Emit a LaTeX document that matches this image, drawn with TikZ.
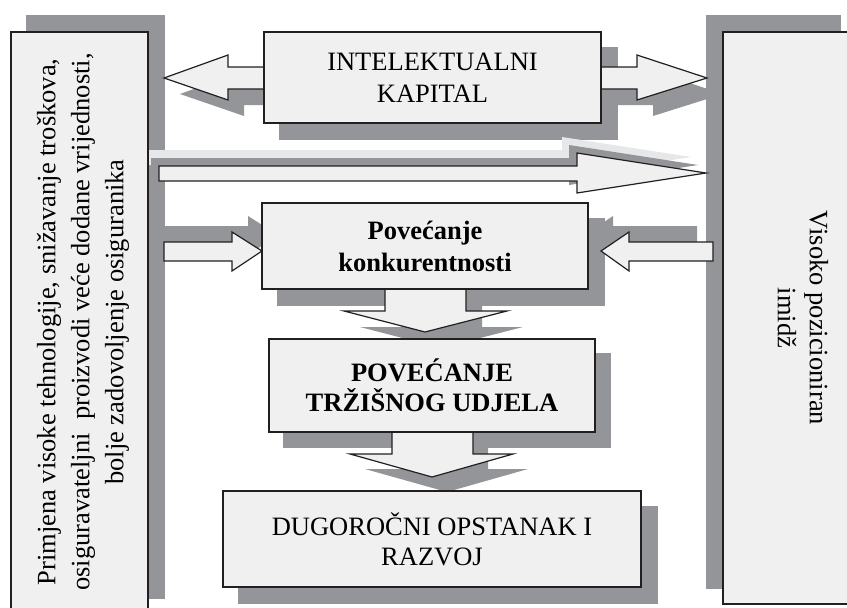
\documentclass[tikz,border=0pt]{standalone}
\usepackage{fontspec}
\setmainfont{Liberation Serif}
\usetikzlibrary{calc}
\definecolor{cBox}{RGB}{240,240,240}
\definecolor{cShade}{RGB}{147,149,152}
\definecolor{cLight}{RGB}{230,231,232}
\definecolor{cLine}{RGB}{35,31,32}
\pgfdeclarelayer{bg}
\pgfsetlayers{bg,main}

\tikzset{
  box/.style={draw=cLine, fill=cBox, line width=1.2pt, inner sep=0pt, align=center,
    font=\fontsize{26.5}{32}\selectfont},
  blk/.style={draw=cLine, fill=cBox, line width=1.2pt},
  shade/.style={fill=cShade},
  sidetext/.style={align=center, inner sep=0pt},
}

% block arrow outlines (reused for the shadows)
\def\pathKap{(164,78) -- (228,55) -- (228,67) -- (637,67) -- (637,55) -- (707,78) -- (637,100) -- (637,89) -- (228,89) -- (228,100) -- cycle}
\def\pathLong{(159,166) -- (577,166) -- (577,153) -- (706,173) -- (577,193) -- (577,181) -- (159,181) -- cycle}
\def\pathInL{(164,242) -- (232,242) -- (232,232) -- (262,251) -- (232,271) -- (232,261) -- (164,261) -- cycle}
\def\pathInR{(713,242) -- (629,242) -- (629,232) -- (601,251) -- (629,271) -- (629,261) -- (713,261) -- cycle}
\def\pathDownA{(385,289) -- (466,289) -- (466,311) -- (507,311) -- (425,332) -- (344,311) -- (385,311) -- cycle}
\def\pathDownB{(392,432) -- (473,432) -- (473,454) -- (513,454) -- (432,477) -- (350,454) -- (392,454) -- cycle}

\begin{document}
\begin{tikzpicture}[x=1pt, y=-1pt]
    \useasboundingbox (0,0) rectangle (847,608);

    % Double arrow behind the top box
    \draw[blk] \pathKap;
    \node[box, minimum width=337pt, minimum height=91pt] (kap) at (432.5,77.5) {INTELEKTUALNI\\KAPITAL};

    % Side arrows and first down arrow
    \draw[blk] \pathInL;
    \draw[blk] \pathInR;
    \draw[blk] \pathDownA;
    \node[box, font=\fontsize{26.5}{32}\selectfont\bfseries, minimum width=326pt, minimum height=86pt] (konk) at (425,246) {Povećanje\\konkurentnosti};

    \draw[blk] \pathDownB;
    \node[box, font=\fontsize{26.5}{30}\selectfont\bfseries, minimum width=326pt, minimum height=93pt] (trz) at (432,385.5) {POVEĆANJE\\TRŽIŠNOG UDJELA};
    \node[box, font=\fontsize{26.5}{30}\selectfont, minimum width=418pt, minimum height=96pt] (dug) at (432,539) {DUGOROČNI OPSTANAK I\\RAZVOJ};

    % Side boxes
    \node[box, minimum width=137pt, minimum height=582pt] (lijevo) at (79.5,323) {};
    \node[box, minimum width=133pt, minimum height=572pt] (desno) at (789.5,318) {};
    \node[sidetext, rotate=90, font=\fontsize{26.5}{34}\selectfont] (txtL) at (83,322)
        {Primjena visoke tehnologije, snižavanje troškova,\\osiguravateljni\ \ proizvodi veće dodane vrijednosti,\\bolje zadovoljenje osiguranika};
    \node[sidetext, rotate=-90, font=\fontsize{26.5}{32}\selectfont] (txtR) at (803,318) {Visoko pozicioniran\\imidž};

    % Long arrow across
    \draw[blk] \pathLong;

    % Shadows
    \begin{pgfonlayer}{bg}
        \fill[shade] ($(kap.south west)+(16,16)$) rectangle ($(kap.north east)+(16,16)$);
        \fill[shade] ($(konk.south west)+(16,16)$) rectangle ($(konk.north east)+(16,16)$);
        \fill[shade] ($(trz.south west)+(15,15)$) rectangle ($(trz.north east)+(15,15)$);
        \fill[shade] ($(dug.south west)+(16,16)$) rectangle ($(dug.north east)+(16,16)$);
        \fill[shade] ($(lijevo.south west)+(16,-16)$) rectangle ($(lijevo.north east)+(16,-16)$);
        \fill[shade] ($(desno.south west)+(-16,-16)$) rectangle ($(desno.north east)+(-16,-16)$);
        \fill[shade, shift={(16,16)}] \pathKap;
        \fill[shade] (164,226) -- (248,226) -- (248,216) -- (278,235) -- (248,255) -- (248,245) -- (164,245) -- cycle;
        \fill[shade, shift={(-16,-16)}] \pathInR;
        \fill[shade, shift={(16,16)}] \pathDownA;
        \fill[shade, shift={(15,15)}] \pathDownB;
        \fill[cLight, shift={(-15,-16)}] \pathLong;
        \fill[shade, shift={(-8,-8)}] \pathLong;
    \end{pgfonlayer}
\end{tikzpicture}
\end{document}
